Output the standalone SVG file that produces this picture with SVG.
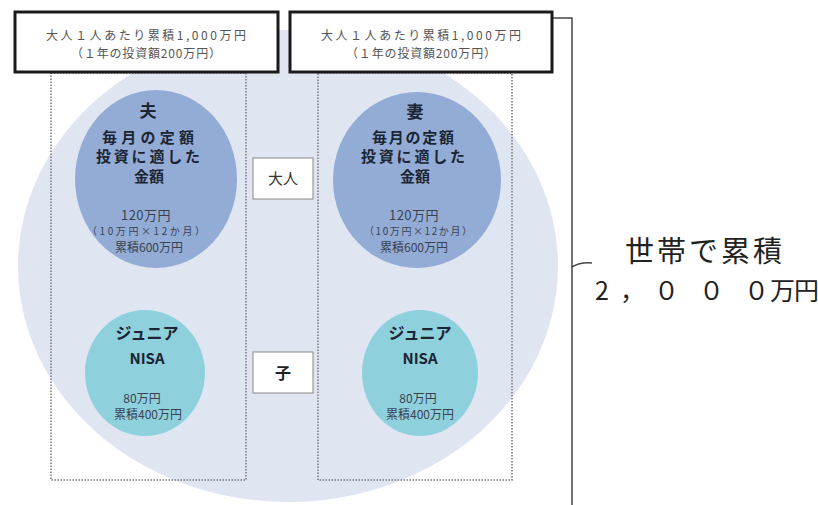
<svg xmlns="http://www.w3.org/2000/svg" width="818" height="505" viewBox="0 0 818 505">
<style>
.jp{font-family:"Noto Sans CJK JP","Liberation Sans",sans-serif;}
.topbox{fill:#fff;stroke:#1a1a1a;stroke-width:3;}
.toptxt{fill:#555;font-size:12px;text-anchor:middle;}
.dot{fill:none;stroke:#777;stroke-width:1.5;stroke-dasharray:1.5 1.5;}
.adult{fill:#93acd6;}
.child{fill:#8fd0dd;}
.title{fill:#1c2533;font-weight:bold;text-anchor:middle;}
.num{fill:#3a4250;text-anchor:middle;}
.mid{fill:#fff;stroke:#888;stroke-width:1;}
.conn{fill:none;stroke:#444;stroke-width:1.5;}
</style>
<rect width="818" height="505" fill="#fff"/>
<g id="household">
<ellipse cx="288" cy="266" rx="270" ry="236" fill="#dfe6f2"/>
</g>
<g id="husband-column">
<rect class="dot" x="51" y="73" width="195" height="407"/>
</g>
<g id="wife-column">
<rect class="dot" x="318" y="73" width="194" height="407"/>
</g>
<g id="husband-box" class="jp">
<rect class="topbox" x="15" y="12" width="263" height="60"/>
<text class="toptxt" x="146" y="40" textLength="200">大人１人あたり累積1,000万円</text>
<text class="toptxt" x="146" y="58" textLength="150">（１年の投資額200万円）</text>
</g>
<g id="wife-box" class="jp">
<rect class="topbox" x="290" y="12" width="262" height="60"/>
<text class="toptxt" x="421" y="40" textLength="200">大人１人あたり累積1,000万円</text>
<text class="toptxt" x="421" y="58" textLength="150">（１年の投資額200万円）</text>
</g>
<g id="husband" class="jp">
<ellipse class="adult" cx="156" cy="179" rx="81" ry="89"/>
<text class="title" x="148" y="117" font-size="17">夫</text>
<text class="title" x="148" y="143" font-size="15" textLength="92">毎月の定額</text>
<text class="title" x="148" y="162" font-size="15" textLength="104">投資に適した</text>
<text class="title" x="149" y="182" font-size="15">金額</text>
<text class="num" x="146" y="220" font-size="13" letter-spacing="0.5">120万円</text>
<text class="num" x="146" y="235" font-size="10" textLength="118">（10万円×12か月）</text>
<text class="num" x="149" y="252" font-size="12">累積600万円</text>
</g>
<g id="wife" class="jp">
<ellipse class="adult" cx="417" cy="180" rx="84" ry="88"/>
<text class="title" x="415" y="118" font-size="17">妻</text>
<text class="title" x="413" y="143" font-size="15" textLength="82">毎月の定額</text>
<text class="title" x="413" y="162" font-size="15" textLength="104">投資に適した</text>
<text class="title" x="415" y="182" font-size="15">金額</text>
<text class="num" x="414" y="220" font-size="13" letter-spacing="0.5">120万円</text>
<text class="num" x="418" y="235" font-size="10" textLength="108">（10万円×12か月）</text>
<text class="num" x="414" y="252" font-size="12">累積600万円</text>
</g>
<g id="husband-junior-nisa" class="jp">
<ellipse class="child" cx="145" cy="373" rx="60" ry="63"/>
<text class="title" x="147" y="339" font-size="16">ジュニア</text>
<text class="title" x="147" y="364" font-size="15">NISA</text>
<text class="num" x="142" y="403" font-size="12">80万円</text>
<text class="num" x="148" y="419" font-size="12">累積400万円</text>
</g>
<g id="wife-junior-nisa" class="jp">
<ellipse class="child" cx="420" cy="373" rx="58" ry="63"/>
<text class="title" x="420" y="339" font-size="16">ジュニア</text>
<text class="title" x="420" y="364" font-size="15">NISA</text>
<text class="num" x="418" y="403" font-size="12">80万円</text>
<text class="num" x="420" y="419" font-size="12">累積400万円</text>
</g>
<g id="adult-label" class="jp">
<rect class="mid" x="253" y="158" width="60" height="41"/>
<text x="283" y="184" font-size="15" fill="#333" text-anchor="middle">大人</text>
</g>
<g id="child-label" class="jp">
<rect class="mid" x="253" y="352" width="60" height="41"/>
<text x="283" y="379" font-size="16" font-weight="bold" fill="#222" text-anchor="middle">子</text>
</g>
<g id="connectors">
<path class="conn" d="M553,18 H572 V505"/>
<path class="conn" d="M572,267 Q580,262 592,263"/>
</g>
<g id="household-total" class="jp">
<text x="705" y="262" font-size="29" fill="#222" text-anchor="middle" letter-spacing="3">世帯で累積</text>
<text x="595 620 654 699 744 770 794" y="300" font-size="25" fill="#222">2，０００万円</text>
</g>
</svg>
